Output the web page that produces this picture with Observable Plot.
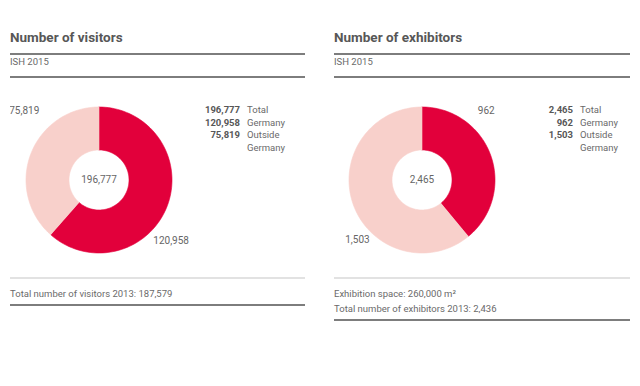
<!DOCTYPE html>
<html>
<head>
<meta charset="utf-8">
<script src="https://cdn.jsdelivr.net/npm/d3@7"></script>
<script src="https://cdn.jsdelivr.net/npm/@observablehq/plot@0.6"></script>
<style>
  html, body { margin: 0; padding: 0; background: #fff; }
  body { width: 640px; height: 386px; position: relative; overflow: hidden; font-family: Roboto, "Liberation Sans", sans-serif; color: #666; }
  .panel { position: absolute; top: 0; height: 386px; }
  .title { position: absolute; top: 28.5px; left: 0; font-weight: bold; font-size: 13.5px; color: #575757; white-space: nowrap; }
  .rule { position: absolute; left: 0; right: 0; height: 2px; background: #7d7d7d; }
  .thin { position: absolute; left: 0; right: 0; height: 1.5px; background: #e2e2e2; }
  .sub { position: absolute; top: 56px; left: 0; font-size: 9.5px; color: #6a6a6a; }
  .chart { position: absolute; top: 80px; left: 0; }
  .legend { position: absolute; top: 104px; font-size: 9.5px; line-height: 12.6px; color: #6a6a6a; }
  .legend .row { display: flex; }
  .legend .v { width: 50px; text-align: right; font-weight: bold; color: #575757; }
  .legend .l { padding-left: 7px; white-space: pre; }
  .foot { position: absolute; top: 285.5px; left: 0; font-size: 9.5px; line-height: 15px; color: #6a6a6a; white-space: nowrap; }
</style>
</head>
<body>
<script>
// ---- data ----
const chartTitles = ["Number of visitors", "Number of exhibitors"];
const subtitle = "ISH 2015";
const categories = ["Germany", "Outside Germany"];
const visitors = [120958, 75819];
const exhibitors = [962, 1503];
const totals = [196777, 2465];
const legendLabels = ["Total", "Germany", "Outside\nGermany"];
const footVisitors = ["Total number of visitors 2013: 187,579"];
const footExhibitors = ["Exhibition space: 260,000 m\u00B2", "Total number of exhibitors 2013: 2,436"];

// ---- layout / style ----
const sliceColors = ["#e2003b", "#f8d0cb"];
const fmt = d3.format(",");
const panels = [
  {left: 10, width: 295, cx: 88.5, cy: 99.5, labelAngles: [130, 313], labelR: [1.29, 1.40], legendLeft: 180, footBottom: 304,
   title: chartTitles[0], values: visitors, total: totals[0], foot: footVisitors},
  {left: 334, width: 296, cx: 87.5, cy: 99.5, labelAngles: [43, 227], labelR: [1.29, 1.21], legendLeft: 189, footBottom: 319,
   title: chartTitles[1], values: exhibitors, total: totals[1], foot: footExhibitors}
];
const R = 73, H = 192, inner = 30 / 73;

function arcPolygon(a0, a1, r0, r1, n = 90) {
  const pts = [];
  for (let i = 0; i <= n; i++) { const a = a0 + (a1 - a0) * i / n; pts.push({x: r1 * Math.sin(a), y: -r1 * Math.cos(a)}); }
  for (let i = n; i >= 0; i--) { const a = a0 + (a1 - a0) * i / n; pts.push({x: r0 * Math.sin(a), y: -r0 * Math.cos(a)}); }
  return pts;
}

for (const p of panels) {
  const div = document.createElement("div");
  div.className = "panel";
  div.style.left = p.left + "px";
  div.style.width = p.width + "px";
  div.innerHTML = `
    <div class="title">${p.title}</div>
    <div class="rule" style="top:53px"></div>
    <div class="sub">${subtitle}</div>
    <div class="rule" style="top:76px"></div>
    <div class="thin" style="top:277px"></div>
    <div class="foot">${p.foot.join("<br>")}</div>
    <div class="rule" style="top:${p.footBottom}px"></div>`;
  document.body.appendChild(div);

  const arcs = d3.pie().sort(null).startAngle(0).endAngle(2 * Math.PI)(p.values);
  const marks = [];
  arcs.forEach((a, i) => {
    marks.push(Plot.line(arcPolygon(a.startAngle, a.endAngle, inner, 1), {
      x: "x", y: "y", fill: sliceColors[i], stroke: sliceColors[i], strokeWidth: 0.6, curve: "linear"
    }));
  });
  const labels = arcs.map((a, i) => {
    const ang = p.labelAngles[i] * Math.PI / 180, r = p.labelR[i];
    return {x: r * Math.sin(ang), y: -r * Math.cos(ang), text: fmt(a.data)};
  });
  labels.push({x: 0, y: 0, text: fmt(p.total)});
  marks.push(Plot.text(labels, {x: "x", y: "y", text: "text", fontSize: 10, fill: "#666", textAnchor: "middle"}));

  const chart = Plot.plot({
    width: p.width, height: H, margin: 0,
    style: {fontFamily: "Roboto, 'Liberation Sans', sans-serif", background: "transparent"},
    x: {domain: [-p.cx / R, (p.width - p.cx) / R], range: [0, p.width], axis: null},
    y: {domain: [-p.cy / R, (H - p.cy) / R], range: [0, H], axis: null},
    marks
  });
  const c = document.createElement("div");
  c.className = "chart";
  c.appendChild(chart);
  div.appendChild(c);

  const leg = document.createElement("div");
  leg.className = "legend";
  leg.style.left = p.legendLeft + "px";
  const legVals = [p.total, ...p.values];
  leg.innerHTML = legVals.map((v, i) => `<div class="row"><div class="v">${fmt(v)}</div><div class="l">${legendLabels[i]}</div></div>`).join("");
  div.appendChild(leg);
}
</script>
</body>
</html>
